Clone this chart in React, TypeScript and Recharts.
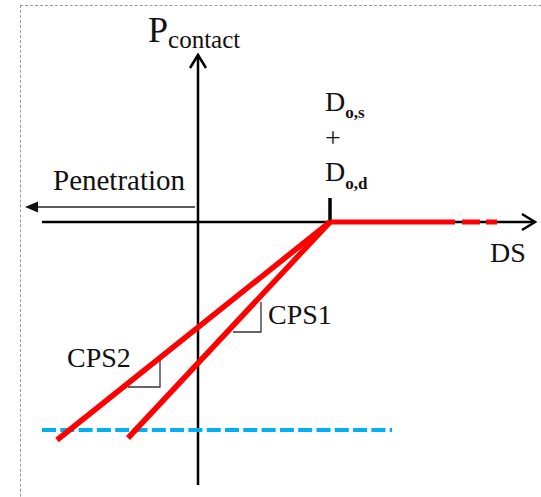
import React from 'react'
import { ComposedChart, Line, Scatter, ReferenceDot, XAxis, YAxis } from 'recharts'

// schematic units: 1 unit = 10 px, origin where the axes cross
const xAxisLine = [{ x: -15.6, y: 0 }, { x: 33.7, y: 0 }]
const yAxisLine = [{ x: 0, y: -26.3 }, { x: 0, y: 16.7 }]
const xArrow = [{ x: 32.4, y: 0.8 }, { x: 33.7, y: 0 }, { x: 32.4, y: -0.8 }]
const yArrow = [{ x: -0.8, y: 15.4 }, { x: 0, y: 16.7 }, { x: 0.8, y: 15.4 }]
const penetrationShaft = [{ x: -0.3, y: 1.5 }, { x: -16.0, y: 1.5 }]
const penetrationTip = [{ x: -17.3, y: 1.5 }]

const offsetTick = [{ x: 13.2, y: 0 }, { x: 13.2, y: 2.4 }]
const noContact = [{ x: 13.2, y: 0 }, { x: 30.0, y: 0 }]
const cps1 = [{ x: 13.2, y: 0 }, { x: -7.0, y: -21.6 }]
const cps2 = [{ x: 13.2, y: 0 }, { x: -14.1, y: -21.8 }]
const limitLine = [{ x: -15.6, y: -20.8 }, { x: 19.4, y: -20.8 }]
const slope1 = [{ x: 6.3, y: -8.0 }, { x: 6.3, y: -11.0 }, { x: 3.5, y: -11.0 }]
const slope2 = [{ x: -3.8, y: -13.5 }, { x: -3.8, y: -16.5 }, { x: -7.0, y: -16.5 }]

const W = 541
const H = 497
const FONT = '"Liberation Serif", "Times New Roman", serif'
const INK = '#111'

type Note = { key: string; x: number; y: number; render: (cx: number, cy: number) => React.ReactElement }

const notes: Note[] = [
  {
    key: 'p', x: -5.0, y: 18.0,
    render: (cx, cy) => (
      <text x={cx} y={cy} fontFamily={FONT} fill={INK}>
        <tspan fontSize={36}>P</tspan>
        <tspan fontSize={25} dy={6}>contact</tspan>
      </text>
    ),
  },
  {
    key: 'pen', x: -14.5, y: 3.2,
    render: (cx, cy) => <text x={cx} y={cy} fontFamily={FONT} fontSize={29} fill={INK}>Penetration</text>,
  },
  {
    key: 'dos', x: 12.7, y: 11.1,
    render: (cx, cy) => (
      <text x={cx} y={cy} fontFamily={FONT} fill={INK}>
        <tspan fontSize={28}>D</tspan>
        <tspan fontSize={17} fontWeight="bold" dy={7}>o,s</tspan>
      </text>
    ),
  },
  {
    key: 'plus', x: 12.7, y: 7.5,
    render: (cx, cy) => <text x={cx} y={cy} fontFamily={FONT} fontSize={28} fill={INK}>+</text>,
  },
  {
    key: 'dod', x: 12.7, y: 4.1,
    render: (cx, cy) => (
      <text x={cx} y={cy} fontFamily={FONT} fill={INK}>
        <tspan fontSize={28}>D</tspan>
        <tspan fontSize={17} fontWeight="bold" dy={8}>o,d</tspan>
      </text>
    ),
  },
  {
    key: 'ds', x: 29.2, y: -4.0,
    render: (cx, cy) => <text x={cx} y={cy} fontFamily={FONT} fontSize={28} fill={INK}>DS</text>,
  },
  {
    key: 'cps1', x: 7.0, y: -10.2,
    render: (cx, cy) => <text x={cx} y={cy} fontFamily={FONT} fontSize={28} fill={INK}>CPS1</text>,
  },
  {
    key: 'cps2', x: -13.1, y: -14.5,
    render: (cx, cy) => <text x={cx} y={cy} fontFamily={FONT} fontSize={28} fill={INK}>CPS2</text>,
  },
]

const seg = (data: { x: number; y: number }[], stroke: string, width: number, extra: any = {}) => (
  <Line
    data={data}
    dataKey="y"
    type="linear"
    stroke={stroke}
    strokeWidth={width}
    dot={false}
    activeDot={false}
    isAnimationActive={false}
    legendType="none"
    {...extra}
  />
)

export default function App() {
  return (
    <div style={{ position: 'absolute', left: 0, top: 0, width: W, height: H, overflow: 'hidden', background: '#fff' }}>
      <div
        style={{
          position: 'absolute', left: 20, top: 5, width: 700, height: 700,
          borderTop: '1px dashed #9a9a9a', borderLeft: '1px dashed #9a9a9a',
        }}
      />
      <div style={{ position: 'absolute', left: 0, top: 0 }}>
        <ComposedChart width={W} height={H} margin={{ top: 0, right: 0, bottom: 0, left: 0 }}>
          <XAxis type="number" dataKey="x" domain={[-19.8, 34.3]} allowDataOverflow hide />
          <YAxis type="number" domain={[-27.5, 22.2]} allowDataOverflow hide />
          {seg(xAxisLine, '#000', 2.5, { key: 'xa' })}
          {seg(yAxisLine, '#000', 2.5, { key: 'ya' })}
          {seg(xArrow, '#000', 2.5, { key: 'xar', strokeLinejoin: 'miter' })}
          {seg(yArrow, '#000', 2.5, { key: 'yar', strokeLinejoin: 'miter' })}
          {seg(penetrationShaft, '#222', 1.5, { key: 'pen' })}
          <Scatter
            data={penetrationTip}
            dataKey="y"
            isAnimationActive={false}
            shape={(p: any) => (
              <polygon
                points={`${p.cx},${p.cy} ${p.cx + 13},${p.cy - 5.5} ${p.cx + 13},${p.cy + 5.5}`}
                fill="#111"
              />
            )}
          />
          {seg(offsetTick, '#000', 3.5, { key: 'tick' })}
          {seg(limitLine, '#00B0F0', 4, { key: 'lim', strokeDasharray: '14 4.3' })}
          {seg(slope1, '#333', 1.3, { key: 's1' })}
          {seg(slope2, '#333', 1.3, { key: 's2' })}
          {seg(noContact, '#ff0000', 5, { key: 'nc', strokeDasharray: '125 7 18 6 11 400' })}
          {seg(cps1, '#ff0000', 5.5, { key: 'c1' })}
          {seg(cps2, '#ff0000', 5.5, { key: 'c2' })}
          {notes.map((n) => (
            <ReferenceDot
              key={n.key}
              x={n.x}
              y={n.y}
              r={0}
              shape={(p: any) => n.render(p.cx, p.cy)}
            />
          ))}
        </ComposedChart>
      </div>
    </div>
  )
}
